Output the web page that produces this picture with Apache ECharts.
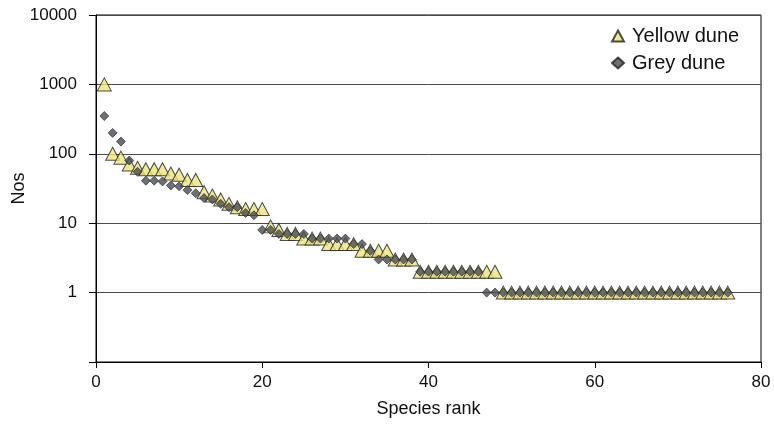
<!DOCTYPE html>
<html>
<head>
<meta charset="utf-8">
<script src="https://cdn.jsdelivr.net/npm/echarts@6/dist/echarts.min.js"></script>
<style>
html,body{margin:0;padding:0;background:#fff;}
#chart{width:774px;height:433px;}
</style>
</head>
<body>
<div id="chart"></div>
<script>
// Species rank–abundance data
const yellowValues = [1000,100,88,70,63,60,60,60,52,50,42,42,28,25,22,19,17,16,16,16,
  9,8,7,7,6,6,6,5,5,5,5,4,4,4,4,3,3,3,
  2,2,2,2,2,2,2,2,2,2,
  1,1,1,1,1,1,1,1,1,1,1,1,1,1,1,1,1,1,1,1,1,1,1,1,1,1,1,1];
const greyValues = [350,200,150,80,55,41,41,40,35,34,30,27,23,22,19,17,17,14,13,
  8,8,7,7,7,7,6,6,6,6,6,5,5,4,3,3,3,3,3,
  2,2,2,2,2,2,2,2,
  1,1,1,1,1,1,1,1,1,1,1,1,1,1,1,1,1,1,1,1,1,1,1,1,1,1,1,1,1,1];
const seriesNames = ['Yellow dune','Grey dune'];
const yTickLabels = ['1','10','100','1000','10000'];
const xTickLabels = ['0','20','40','60','80'];

const yellowData = yellowValues.map((v,i)=>[i+1,v]);
const greyData = greyValues.map((v,i)=>[i+1,v]);

const font = 'Liberation Sans, Arial, sans-serif';
const chart = echarts.init(document.getElementById('chart'), null, {renderer:'canvas'});
chart.setOption({
  animation:false,
  backgroundColor:'#fff',
  grid:{left:96,right:13,top:15,bottom:71,containLabel:false,outerBoundsMode:'none',
    show:true,borderColor:'#000',borderWidth:1,backgroundColor:'transparent'},
  legend:{
    orient:'vertical', left:606, top:21, itemGap:7, itemWidth:12, itemHeight:11,
    textStyle:{fontFamily:font,fontSize:20,color:'#111',padding:[0,0,0,3]},
    data:[{name:seriesNames[0],icon:'triangle'},{name:seriesNames[1],icon:'diamond'}]
  },
  xAxis:{
    type:'value', min:0, max:80, interval:20,
    name:'Species rank', nameLocation:'middle', nameGap:38, nameMoveOverlap:false,
    nameTextStyle:{fontFamily:font,fontSize:18,color:'#111'},
    axisLine:{lineStyle:{color:'#000',width:1}},
    axisTick:{show:true,inside:false,length:6,lineStyle:{color:'#000'}},
    axisLabel:{fontFamily:font,fontSize:17,color:'#111',margin:12,
      formatter:(v)=>xTickLabels.includes(String(v))?String(v):''},
    splitLine:{show:false}
  },
  yAxis:{
    type:'log', logBase:10, min:0.1, max:10000,
    name:'Nos', nameLocation:'middle', nameGap:68, nameRotate:90, nameMoveOverlap:false,
    nameTextStyle:{fontFamily:font,fontSize:18,color:'#111'},
    axisLine:{show:true,lineStyle:{color:'#000',width:1}},
    axisTick:{show:true,inside:false,length:7,lineStyle:{color:'#000'}},
    axisLabel:{fontFamily:font,fontSize:17,color:'#111',margin:19,
      formatter:(v)=>{const s=String(Math.round(v)); return (v>=1 && yTickLabels.includes(s))?s:'';}},
    splitLine:{show:true,lineStyle:{color:'#4a4a4a',width:1}},
    minorTick:{show:false}
  },
  series:[
    {name:seriesNames[0],type:'scatter',symbol:'triangle',symbolSize:[14,13],
     itemStyle:{color:'#ECE47A',borderColor:'#222',borderWidth:1},data:yellowData,z:2},
    {name:seriesNames[1],type:'scatter',symbol:'diamond',symbolSize:[9,9],
     itemStyle:{color:'#474c52',borderColor:'#222',borderWidth:0.8},data:greyData,z:3}
  ]
});
</script>
</body>
</html>
